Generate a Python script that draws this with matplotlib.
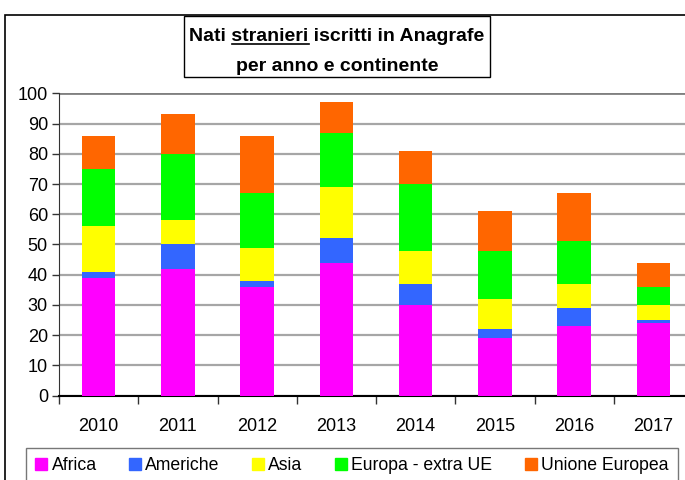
import matplotlib.pyplot as plt
from matplotlib.patches import Rectangle
import numpy as np

years = ["2010", "2011", "2012", "2013", "2014", "2015", "2016", "2017"]
africa = [39, 42, 36, 44, 30, 19, 23, 24]
americhe = [2, 8, 2, 8, 7, 3, 6, 1]
asia = [15, 8, 11, 17, 11, 10, 8, 5]
europa_extra = [19, 22, 18, 18, 22, 16, 14, 6]
unione_europea = [11, 13, 19, 10, 11, 13, 16, 8]

series = [
    ("Africa", africa, "#FF00FF"),
    ("Americhe", americhe, "#3366FF"),
    ("Asia", asia, "#FFFF00"),
    ("Europa - extra UE", europa_extra, "#00FF00"),
    ("Unione Europea", unione_europea, "#FF6600"),
]

plt.rcParams['font.family'] = ['Liberation Sans', 'DejaVu Sans']

fig = plt.figure(figsize=(6.85, 4.8), dpi=100)
W, H = 685, 480

# outer chart frame
fig.patches.append(Rectangle((5 / W, -0.1), 1.2, 1 - 15 / H + 0.1, transform=fig.transFigure,
                             fill=False, edgecolor="black", linewidth=1.2))

ax = fig.add_axes([59 / W, 1 - 395.7 / H, (693 - 59) / W, (395.7 - 93.3) / H])

x = np.arange(len(years))
bottom = np.zeros(len(years))
for name, vals, color in series:
    ax.bar(x, vals, width=0.42, bottom=bottom, color=color, label=name, zorder=3)
    bottom += np.array(vals)

ax.set_xlim(-0.5, len(years) - 0.5)
ax.set_ylim(0, 100)
ax.set_yticks(range(0, 101, 10))
ax.yaxis.grid(True, color="#a6a6a6", linewidth=1.6, zorder=0)
ax.set_axisbelow(True)

# category labels at centres, tick marks between categories
ax.set_xticks(np.arange(-0.5, len(years), 1))
ax.set_xticklabels([])
ax.set_xticks(x, minor=True)
ax.set_xticklabels(years, minor=True, fontsize=13)
ax.tick_params(axis="x", which="major", length=6, width=1, color="#333333", direction="out")
ax.tick_params(axis="x", which="minor", length=0, pad=16)
ax.tick_params(axis="y", length=5, width=1, labelsize=13, pad=3, color="#333333")

for side in ["top", "right"]:
    ax.spines[side].set_visible(False)
ax.spines["left"].set_color("#333333")
ax.spines["bottom"].set_color("black")
ax.spines["bottom"].set_linewidth(1.5)
ax.axhline(100, color="#808080", linewidth=2, zorder=1)

# title box
fig.patches.append(Rectangle((184 / W, 1 - 77 / H), (490 - 184) / W, 61 / H,
                             transform=fig.transFigure, fill=True, facecolor="white",
                             edgecolor="black", linewidth=1.0))
line1 = "Nati stranieri iscritti in Anagrafe"
t1 = fig.text(337 / W, 1 - 41 / H, line1, ha="center", va="baseline",
              fontsize=14, fontweight="bold")
fig.text(337 / W, 1 - 71 / H, "per anno e continente", ha="center", va="baseline",
         fontsize=14, fontweight="bold")

# legend box
handles = [Rectangle((0, 0), 1, 1, color=c) for _, _, c in series]
labels = [n for n, _, _ in series]
leg = fig.legend(handles, labels, loc="center", bbox_to_anchor=(352 / W, 1 - 466 / H),
                 ncol=5, frameon=True, fontsize=12.7, handlelength=0.68, handleheight=0.68,
                 handletextpad=0.23, columnspacing=1.85, borderpad=0.55, fancybox=False)
leg.get_frame().set_edgecolor("#555555")
leg.get_frame().set_linewidth(1.0)

# underline "stranieri"
fig.canvas.draw()
r = fig.canvas.get_renderer()


def text_w(s):
    tmp = fig.text(0, 0, s, fontsize=14, fontweight="bold")
    w = tmp.get_window_extent(r).width
    tmp.remove()
    return w


full = t1.get_window_extent(r)
w_pre = text_w("Nati stranieri")
w_word = text_w("stranieri")
ux0 = full.x0 + w_pre - w_word
ux1 = full.x0 + w_pre
uy = 1 - 43.5 / H
fig.add_artist(plt.Line2D([ux0 / W, ux1 / W], [uy, uy], transform=fig.transFigure,
                          color="black", linewidth=1.2))

fig.savefig("out.png", dpi=100)
